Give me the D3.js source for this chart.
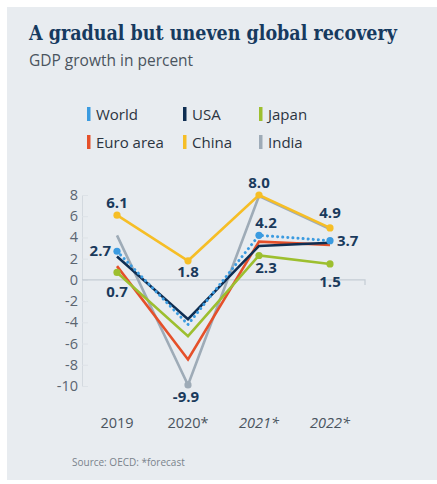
<!DOCTYPE html>
<html><head><meta charset="utf-8">
<script src="https://cdn.jsdelivr.net/npm/d3@7"></script>
<style>
html,body{margin:0;padding:0;background:#fff;}
svg{display:block;}
</style></head>
<body>
<svg id="c" width="437" height="484"></svg>
<script>
const years = ["2019","2020*","2021*","2022*"];
const italicYears = [false,false,true,true];
const yTicks = [8,6,4,2,0,-2,-4,-6,-8,-10];
const seriesNames = ["World","USA","Japan","Euro area","China","India"];
const seriesColors = ["#3b9be0","#0f2e52","#9dbf2f","#e5502a","#f6be26","#9eabb7"];
const world = [2.7,-4.2,4.2,3.7];
const usa = [2.2,-3.7,3.2,3.5];
const japan = [0.7,-5.3,2.3,1.5];
const euro = [1.3,-7.5,3.6,3.3];
const china = [6.1,1.8,8.0,4.9];
const india = [4.2,-9.9,7.9,4.8];
const seriesValues = [world,usa,japan,euro,china,india];
// labelled points: series index, year index
const labelledPoints = [[4,0],[0,0],[2,0],[4,1],[5,1],[4,2],[0,2],[2,2],[4,3],[0,3],[2,3]];
const labelTexts = ["6.1","2.7","0.7","1.8","-9.9","8.0","4.2","2.3","4.9","3.7","1.5"];

const svg = d3.select("#c");
svg.append("rect").attr("x",7).attr("y",7).attr("width",430).attr("height",473).attr("fill","#e8ecf0");

const title = svg.append("text").attr("x",29).attr("y",40)
  .attr("font-family","'DejaVu Serif Condensed', 'DejaVu Serif', serif").attr("font-weight","bold")
  .attr("font-size",22).attr("fill","#163a5f")
  .text("A gradual but uneven global recovery");
const tw = title.node().getComputedTextLength();
if (tw > 368) title.attr("font-size", 22*368/tw);

svg.append("text").attr("x",29).attr("y",66)
  .attr("font-family","'Open Sans', 'Noto Sans', sans-serif")
  .attr("font-size",15.5).attr("fill","#4a545e")
  .text("GDP growth in percent");

// legend
const legCols = [87,183,259];
const legRows = [114,142];
seriesNames.forEach((n,i)=>{
  const cx = legCols[i%3], cy = legRows[Math.floor(i/3)];
  svg.append("rect").attr("x",cx).attr("y",cy-7).attr("width",3.5).attr("height",14).attr("fill",seriesColors[i]);
  svg.append("text").attr("x",cx+9).attr("y",cy+5.5)
    .attr("font-family","'Open Sans', 'Noto Sans', sans-serif").attr("font-size",15)
    .attr("fill","#2b3440").text(n);
});

const x = d3.scalePoint().domain(years).range([117,330]);
const y = d3.scaleLinear().domain([-10,8]).range([386,195]);

// y axis
const yAxis = svg.append("g").attr("transform","translate(82,0)")
  .call(d3.axisRight(y).tickValues(yTicks).tickSize(6).tickFormat(""));
yAxis.select(".domain").attr("stroke","#d3d9df").attr("stroke-width",1);
yAxis.selectAll(".tick line").attr("stroke","#dde2e7");
yTicks.forEach(t=>{
  svg.append("text").attr("x",78).attr("y",y(t)+5)
    .attr("text-anchor","end")
    .attr("font-family","'Open Sans', 'Noto Sans', sans-serif").attr("font-size",14.5)
    .attr("fill","#5b6570").text(t);
});
// zero line
svg.append("path").attr("d",`M82,${y(0)}H365V${y(0)+5}`).attr("fill","none").attr("stroke","#c3ccd4").attr("stroke-width",1.2);

// x labels
years.forEach((yr,i)=>{
  svg.append("text").attr("x",x(yr)).attr("y",428).attr("text-anchor","middle")
    .attr("font-family","'Open Sans', 'Noto Sans', sans-serif").attr("font-size",14.5)
    .attr("font-style",italicYears[i]?"italic":"normal")
    .attr("fill","#4a545e").text(yr);
});

// lines: draw order bottom -> top
const order = [5,4,3,2,1,0];
const line = d3.line().x((d,i)=>x(years[i])).y(d=>y(d));
order.forEach(si=>{
  svg.append("path").datum(seriesValues[si]).attr("d",line)
    .attr("fill","none").attr("stroke",seriesColors[si])
    .attr("stroke-width", si===0?3:2.6)
    .attr("stroke-dasharray", si===0?"0.1,5":null)
    .attr("stroke-linecap", si===0?"round":"butt")
    .attr("stroke-linejoin","miter");
});

// dots + labels
const offsets = [
  [0,-7,"middle"],[-6,5,"end"],[0,25,"middle"],[0,16,"middle"],[-2,17,"middle"],
  [0,-7,"middle"],[7,-7.5,"middle"],[7,18,"middle"],[0,-10,"middle"],[7,5,"start"],[0,23,"middle"]
];
labelledPoints.forEach(([si,yi],k)=>{
  const px = x(years[yi]), py = y(seriesValues[si][yi]);
  svg.append("circle").attr("cx",px).attr("cy",py).attr("r",3.6).attr("fill",seriesColors[si]);
  const o = offsets[k];
  svg.append("text").attr("x",px+o[0]).attr("y",py+o[1]).attr("text-anchor",o[2])
    .attr("font-family","'Open Sans', 'Noto Sans', sans-serif").attr("font-weight","bold")
    .attr("font-size",15).attr("fill","#1a3a5c").text(labelTexts[k]);
});

svg.append("text").attr("x",72).attr("y",466)
  .attr("font-family","'Open Sans', 'Noto Sans', sans-serif").attr("font-size",10)
  .attr("fill","#7a838c").text("Source: OECD: *forecast");
</script>
</body></html>
